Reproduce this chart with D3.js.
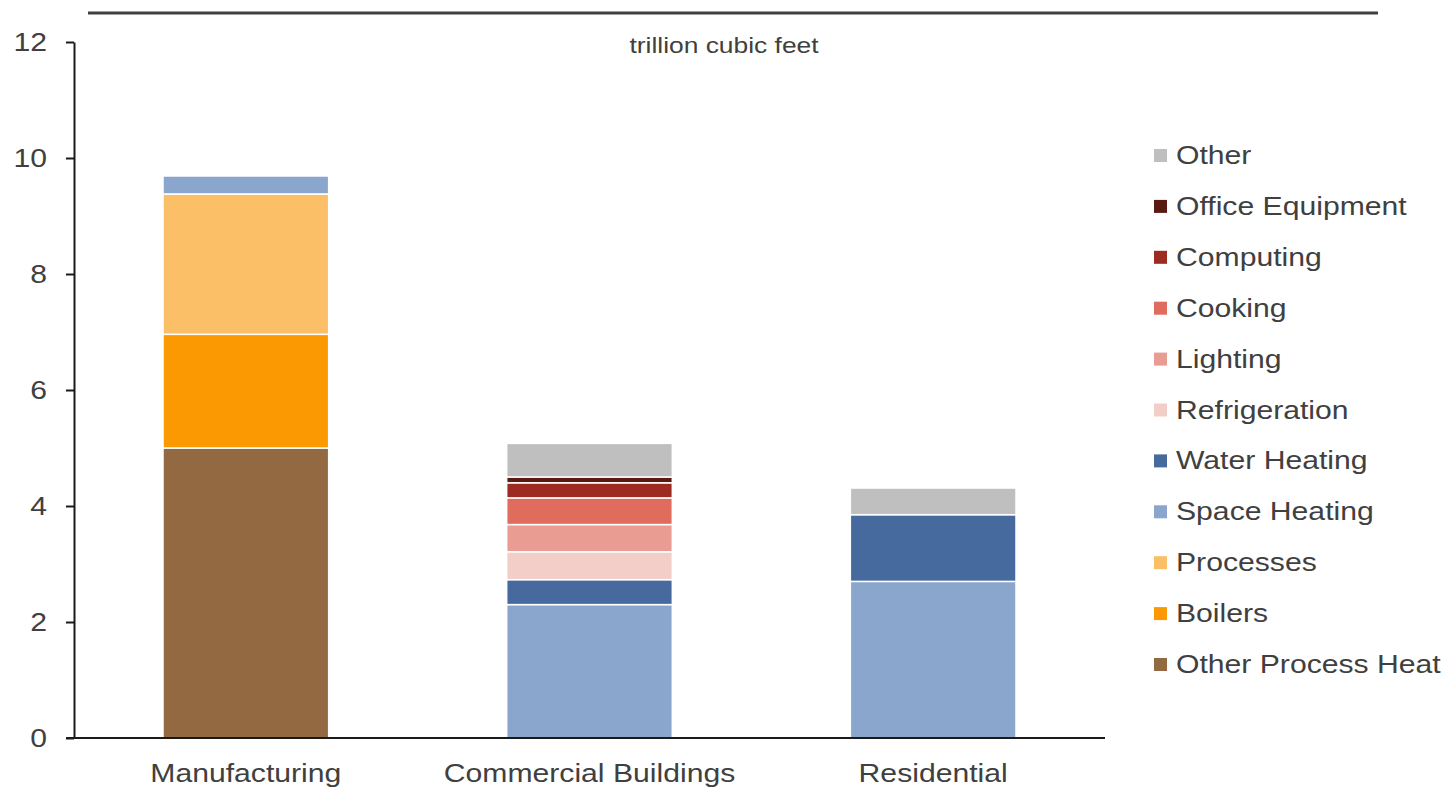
<!DOCTYPE html>
<html>
<head>
<meta charset="utf-8">
<script src="https://cdn.jsdelivr.net/npm/d3@7"></script>
<style>
  body { margin: 0; background: #fff; }
  svg text { font-family: "Liberation Sans", Arial, sans-serif; fill: #404040; }
</style>
</head>
<body>
<div id="chart"></div>
<script>
// sectors on the x axis
const sectors = ["Manufacturing", "Commercial Buildings", "Residential"];

// end uses, bottom to top of stack (legend is shown in reverse)
const endUses = ["Other Process Heat", "Boilers", "Processes", "Space Heating", "Water Heating",
                 "Refrigeration", "Lighting", "Cooking", "Computing", "Office Equipment", "Other"];
const useColors = ["#936941", "#fb9903", "#fbbf67", "#8ba6cd", "#466a9e",
                   "#f3cdc8", "#e99c92", "#e06c5e", "#9c2b22", "#5a1a14", "#bfbfbf"];

// values in trillion cubic feet, per sector, in endUses order
const manufacturing = [5.00, 1.96, 2.42, 0.31, 0, 0, 0, 0, 0, 0, 0];
const commercial    = [0, 0, 0, 2.30, 0.43, 0.48, 0.47, 0.46, 0.26, 0.10, 0.58];
const residential   = [0, 0, 0, 2.70, 1.15, 0, 0, 0, 0, 0, 0.46];

const yTicks = [0, 2, 4, 6, 8, 10, 12];
const unitLabel = "trillion cubic feet";

const W = 1447, H = 788;
const margin = {top: 42, left: 74, bottom: 50};
const plotRight = 1105;
const stretch = 1.16; // the original's text is drawn wider than plain Arial

const rows = [manufacturing, commercial, residential].map((vals, i) => {
  const o = {sector: sectors[i]};
  endUses.forEach((u, j) => o[u] = vals[j]);
  return o;
});
const series = d3.stack().keys(endUses)(rows);

const svg = d3.select('#chart').append('svg')
  .attr('width', W).attr('height', H);

const x = d3.scaleBand()
  .domain(sectors)
  .range([margin.left, plotRight])
  .paddingInner(0.518)
  .paddingOuter(0.259);

const y = d3.scaleLinear()
  .domain([0, 12])
  .range([H - margin.bottom, margin.top]);

const color = d3.scaleOrdinal().domain(endUses).range(useColors);

// top rule
svg.append('line')
  .attr('x1', 88).attr('x2', 1378)
  .attr('y1', 13).attr('y2', 13)
  .attr('stroke', '#404040').attr('stroke-width', 3);

svg.append('text')
  .attr('transform', `translate(724,53) scale(1.2,1)`)
  .attr('text-anchor', 'middle')
  .style('font-size', '22px')
  .text(unitLabel);

// stacked bars
svg.append('g').selectAll('g')
  .data(series)
  .join('g')
  .attr('fill', d => color(d.key))
  .selectAll('rect')
  .data(d => d.filter(s => s[1] - s[0] > 0))
  .join('rect')
  .attr('x', d => x(d.data.sector))
  .attr('width', x.bandwidth())
  .attr('y', d => y(d[1]))
  .attr('height', d => y(d[0]) - y(d[1]))
  .attr('stroke', '#fff')
  .attr('stroke-width', 1.5);

// y axis
const yAxisG = svg.append('g')
  .attr('transform', `translate(${margin.left},0)`)
  .call(d3.axisLeft(y).tickValues(yTicks).tickSize(8).tickPadding(20).tickSizeOuter(0));
yAxisG.selectAll('line').attr('stroke', '#1a1a1a').attr('stroke-width', 2);
yAxisG.select('.domain').attr('stroke', '#1a1a1a').attr('stroke-width', 2);
yAxisG.selectAll('text')
  .style('font-size', '26px').attr('fill', '#404040')
  .attr('x', null)
  .attr('transform', `translate(-27,0) scale(${stretch},1)`);

// x axis
const xAxisG = svg.append('g')
  .attr('transform', `translate(0,${H - margin.bottom})`)
  .call(d3.axisBottom(x).tickSize(0).tickPadding(26));
xAxisG.select('.domain').attr('d', `M66,0H${plotRight}`)
  .attr('stroke', '#1a1a1a').attr('stroke-width', 2);
xAxisG.selectAll('text')
  .style('font-size', '26px').attr('fill', '#404040')
  .attr('transform', `scale(${stretch},1)`);

// legend (reverse order, Other on top)
const legendKeys = endUses.slice().reverse();
const legend = svg.append('g')
  .selectAll('g')
  .data(legendKeys)
  .join('g')
  .attr('transform', (d, i) => `translate(1154,${155 + i * 50.9})`);
legend.append('rect')
  .attr('x', 0).attr('y', -6)
  .attr('width', 13).attr('height', 13)
  .attr('fill', d => color(d));
legend.append('text')
  .attr('transform', `translate(22,9) scale(${stretch},1)`)
  .style('font-size', '26px')
  .text(d => d);
</script>
</body>
</html>
